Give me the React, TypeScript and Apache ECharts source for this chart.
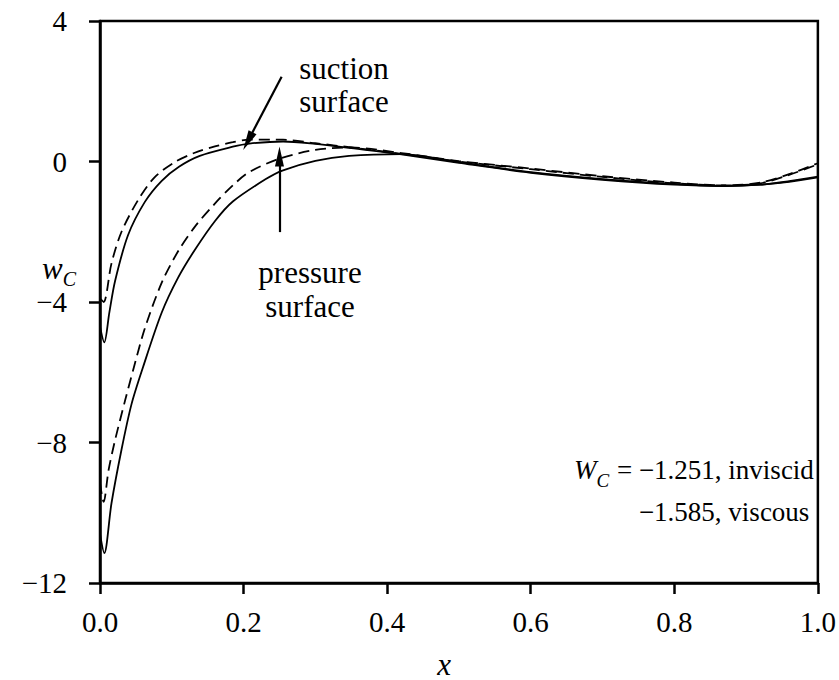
import React, { useEffect, useRef } from "react";
import * as echarts from "echarts";

// ---- axis ticks ----
const xTickValues = [0, 0.2, 0.4, 0.6, 0.8, 1.0];
const yTickValues = [-12, -8, -4, 0, 4];

// ---- suction surface, inviscid (dashed) ----
const suctionInvX = [0, 0.005, 0.016, 0.03, 0.053, 0.076, 0.104, 0.132, 0.16, 0.185, 0.208, 0.255, 0.3, 0.35, 0.42, 0.5, 0.6, 0.7, 0.8, 0.87, 0.92, 0.96, 1.0];
const suctionInvY = [-3.9, -4.0, -2.9, -2.0, -1.1, -0.45, -0.02, 0.25, 0.43, 0.55, 0.62, 0.62, 0.52, 0.4, 0.22, 0.0, -0.22, -0.44, -0.62, -0.68, -0.6, -0.36, -0.05];

// ---- suction surface, viscous (solid) ----
const suctionViscX = [0, 0.006, 0.013, 0.021, 0.039, 0.0625, 0.086, 0.11, 0.139, 0.185, 0.208, 0.255, 0.3, 0.35, 0.42, 0.5, 0.6, 0.7, 0.8, 0.87, 0.92, 0.96, 1.0];
const suctionViscY = [-4.7, -5.15, -4.3, -3.4, -2.1, -1.15, -0.55, -0.15, 0.16, 0.42, 0.51, 0.57, 0.5, 0.38, 0.2, -0.04, -0.32, -0.52, -0.66, -0.7, -0.66, -0.58, -0.45];

// ---- pressure surface, inviscid (dashed) ----
const pressureInvX = [0, 0.005, 0.012, 0.021, 0.035, 0.046, 0.0625, 0.086, 0.109, 0.132, 0.16, 0.185, 0.208, 0.25, 0.3, 0.35, 0.42, 0.5, 0.6, 0.7, 0.8, 0.87, 0.92, 0.96, 1.0];
const pressureInvY = [-9.15, -9.69, -8.78, -7.93, -6.8, -5.95, -4.75, -3.45, -2.55, -1.86, -1.2, -0.68, -0.3, 0.08, 0.33, 0.4, 0.24, 0.01, -0.2, -0.42, -0.6, -0.68, -0.62, -0.38, -0.08];

// ---- pressure surface, viscous (solid) ----
const pressureViscX = [0, 0.006, 0.016, 0.03, 0.044, 0.06, 0.086, 0.109, 0.132, 0.16, 0.185, 0.231, 0.255, 0.3, 0.347, 0.42, 0.5, 0.6, 0.7, 0.8, 0.87, 0.92, 0.96, 1.0];
const pressureViscY = [-10.6, -11.15, -9.73, -8.2, -6.9, -5.85, -4.3, -3.3, -2.52, -1.7, -1.14, -0.5, -0.25, 0.02, 0.16, 0.21, -0.02, -0.3, -0.5, -0.64, -0.7, -0.66, -0.56, -0.43];

// ---- annotation arrows (data coords: [from], [to]) ----
const suctionArrow = [[0.253, 2.41], [0.206, 0.58]];
const pressureArrow = [[0.25, -2.01], [0.25, 0.14]];

// ---- annotation texts ----
const suctionLabel = ["suction", "surface"];
const pressureLabel = ["pressure", "surface"];
const circulationSymbol = "W";
const circulationSub = "C";
const inviscidText = "−1.251, inviscid";
const viscousText = "−1.585, viscous";
const yName = ["w", "C"];
const xName = "x";

const FONT = '"Liberation Serif", "Times New Roman", serif';
const FS = 29; // tick labels
const FA = 31; // annotations
const FW = 27; // W_C block

function zip(xs: number[], ys: number[]) {
  return xs.map((x, i) => [x, ys[i]]);
}

function measure(text: string, size: number, italic: boolean) {
  const c = document.createElement("canvas").getContext("2d")!;
  c.font = `${italic ? "italic " : ""}${size}px ${FONT}`;
  return c.measureText(text).width;
}

export default function App() {
  const ref = useRef<HTMLDivElement>(null);
  useEffect(() => {
    if (!ref.current) return;
    const chart = echarts.init(ref.current, undefined, { renderer: "svg" });

    const lineBase = { type: "line", showSymbol: false, symbol: "none", smooth: 0.3, silent: true } as const;

    // text layout for W_C block
    const wcLeft = 574;
    const wcY1 = 470;
    const wcY2 = 512;
    const wW = measure(circulationSymbol, FW, true);
    const wC = measure(circulationSub, 19, true);
    const wEq = measure(" = ", FW, false);
    const subX = wcLeft + wW;
    const eqX = subX + wC + 1;
    const numX = eqX + wEq;

    const ywX = 42;
    const ywW = measure(yName[0], FA, true);

    const arrowMark = (seg: number[][]) => ({
      silent: true,
      symbol: ["none", "triangle"],
      symbolSize: [9, 20],
      label: { show: false },
      lineStyle: { color: "#000", width: 2.2, type: "solid" },
      data: [[{ coord: seg[0] }, { coord: seg[1] }]],
    });

    const txt = (x: number, y: number, text: string, font: string, align = "center") => ({
      type: "text",
      x,
      y,
      silent: true,
      style: { text, font, fill: "#000", align, verticalAlign: "middle" },
    });

    chart.setOption({
      animation: false,
      backgroundColor: "#fff",
      grid: { left: 100, right: 19, top: 21, bottom: 97, show: true, borderColor: "#000", borderWidth: 2.5 },
      xAxis: {
        type: "value",
        min: 0,
        max: 1,
        interval: 0.2,
        axisLine: { show: true, onZero: false, lineStyle: { color: "#000", width: 2.5 } },
        axisTick: { show: true, inside: false, length: 11, lineStyle: { color: "#000", width: 2.5 } },
        axisLabel: {
          margin: 24,
          color: "#000",
          fontFamily: FONT,
          fontSize: FS,
          formatter: (v: number) => (xTickValues.some((t) => Math.abs(t - v) < 1e-9) ? v.toFixed(1) : ""),
        },
        splitLine: { show: false },
      },
      yAxis: {
        type: "value",
        min: -12,
        max: 4,
        interval: 4,
        axisLine: { show: true, onZero: false, lineStyle: { color: "#000", width: 2.5 } },
        axisTick: { show: true, inside: false, length: 11, lineStyle: { color: "#000", width: 2.5 } },
        axisLabel: {
          margin: 33,
          color: "#000",
          fontFamily: FONT,
          fontSize: FS,
          formatter: (v: number) => (yTickValues.includes(v) ? String(v).replace("-", "−") : ""),
        },
        splitLine: { show: false },
      },
      series: [
        {
          ...lineBase,
          name: "suction inviscid",
          data: zip(suctionInvX, suctionInvY),
          lineStyle: { color: "#000", width: 1.8, type: [11, 6] },
          markLine: arrowMark(suctionArrow),
        },
        {
          ...lineBase,
          name: "suction viscous",
          data: zip(suctionViscX, suctionViscY),
          lineStyle: { color: "#000", width: 1.8, type: "solid" },
        },
        {
          ...lineBase,
          name: "pressure inviscid",
          data: zip(pressureInvX, pressureInvY),
          lineStyle: { color: "#000", width: 1.8, type: [11, 6] },
          markLine: arrowMark(pressureArrow),
        },
        {
          ...lineBase,
          name: "pressure viscous",
          data: zip(pressureViscX, pressureViscY),
          lineStyle: { color: "#000", width: 1.8, type: "solid" },
        },
      ],
      graphic: [
        txt(344, 68, suctionLabel[0], `${FA}px ${FONT}`),
        txt(344, 101, suctionLabel[1], `${FA}px ${FONT}`),
        txt(310, 272, pressureLabel[0], `${FA}px ${FONT}`),
        txt(310, 306, pressureLabel[1], `${FA}px ${FONT}`),
        txt(wcLeft, wcY1, circulationSymbol, `italic ${FW}px ${FONT}`, "left"),
        txt(subX, wcY1 + 10, circulationSub, `italic 19px ${FONT}`, "left"),
        txt(eqX, wcY1, " = ", `${FW}px ${FONT}`, "left"),
        txt(numX, wcY1, inviscidText, `${FW}px ${FONT}`, "left"),
        txt(numX, wcY2, viscousText, `${FW}px ${FONT}`, "left"),
        txt(ywX, 268, yName[0], `italic ${FA}px ${FONT}`, "left"),
        txt(ywX + ywW, 279, yName[1], `italic 20px ${FONT}`, "left"),
        txt(444, 664, xName, `italic ${FA}px ${FONT}`),
      ],
    });
    return () => chart.dispose();
  }, []);
  return <div ref={ref} style={{ position: "fixed", left: 0, top: 0, width: 839, height: 680, background: "#fff" }} />;
}
